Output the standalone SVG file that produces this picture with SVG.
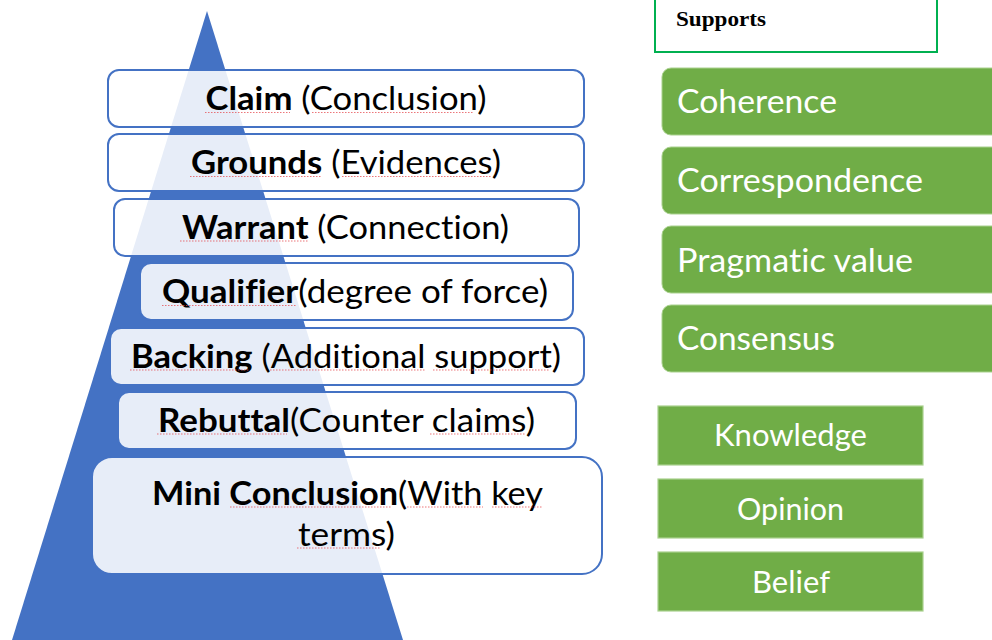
<svg xmlns="http://www.w3.org/2000/svg" width="992" height="640" viewBox="0 0 992 640">
  <defs>
    <style>
      text { font-variant-ligatures: none; font-feature-settings: "liga" 0, "clig" 0; }
      .tier { fill: #ffffff; fill-opacity: 0.87; stroke: #4472C4; stroke-width: 2; }
      .tier-text { font-family: Lato, "Open Sans", "Liberation Sans", sans-serif; font-size: 33px; fill: #000000; text-anchor: middle; }
      .b { font-weight: bold; }
      .squiggle { stroke: #E5484D; stroke-width: 1.1; stroke-dasharray: 1.5 1.5; fill: none; opacity: 0.75; }
      .theory { fill: #70AD47; stroke: #A9D18E; stroke-width: 1; }
      .theory-text { font-family: Lato, "Open Sans", "Liberation Sans", sans-serif; font-size: 33px; fill: #ffffff; }
      .state { fill: #70AD47; stroke: #A9D18E; stroke-width: 1.2; }
      .state-text { font-family: Lato, "Open Sans", "Liberation Sans", sans-serif; font-size: 31px; fill: #ffffff; text-anchor: middle; }
    </style>
  </defs>

  <rect width="992" height="640" fill="#ffffff"/>

  <!-- Background pyramid -->
  <g id="pyramid">
    <polygon points="207,11 12,640 403,640" fill="#4472C4"/>
  </g>

  <!-- Argument tiers -->
  <g id="node-claim">
    <rect class="tier" x="108" y="70" width="476" height="57" rx="11"/>
    <text class="tier-text" x="346" y="110" textLength="281" lengthAdjust="spacingAndGlyphs"><tspan class="b">Claim</tspan> (Conclusion)</text>
    <path class="squiggle" d="M205 112.5H290M312 112.5H473"/>
  </g>

  <g id="node-grounds">
    <rect class="tier" x="108" y="134" width="476" height="57" rx="11"/>
    <text class="tier-text" x="346" y="174" textLength="310" lengthAdjust="spacingAndGlyphs"><tspan class="b">Grounds</tspan> (Evidences)</text>
    <path class="squiggle" d="M190 176.5H322M342 176.5H492"/>
  </g>

  <g id="node-warrant">
    <rect class="tier" x="114" y="199" width="465" height="57" rx="11"/>
    <text class="tier-text" x="345.5" y="238.5" textLength="327" lengthAdjust="spacingAndGlyphs"><tspan class="b">Warrant</tspan> (Connection)</text>
    <path class="squiggle" d="M180 241H308"/>
  </g>

  <g id="node-qualifier">
    <rect class="tier" x="140" y="263" width="433" height="57" rx="11"/>
    <text class="tier-text" x="355" y="303" textLength="386" lengthAdjust="spacingAndGlyphs"><tspan class="b">Qualifier</tspan>(degree of force)</text>
    <path class="squiggle" d="M162 305.5H297"/>
  </g>

  <g id="node-backing">
    <rect class="tier" x="110" y="328" width="474" height="57" rx="11"/>
    <text class="tier-text" x="346" y="367.5" textLength="430" lengthAdjust="spacingAndGlyphs"><tspan class="b">Backing</tspan> (Additional support)</text>
    <path class="squiggle" d="M130 370H250M270 370H425M433 370H550"/>
  </g>

  <g id="node-rebuttal">
    <rect class="tier" x="118" y="392" width="458" height="57" rx="11"/>
    <text class="tier-text" x="346.5" y="431.5" textLength="377" lengthAdjust="spacingAndGlyphs"><tspan class="b">Rebuttal</tspan>(Counter claims)</text>
    <path class="squiggle" d="M157 434H287M430 434H525"/>
  </g>

  <g id="node-mini-conclusion">
    <rect class="tier" x="92" y="457" width="510" height="117" rx="20"/>
    <text class="tier-text" x="347.5" y="504.5" textLength="391" lengthAdjust="spacingAndGlyphs"><tspan class="b">Mini Conclusion</tspan>(With key</text>
    <text class="tier-text" x="346.5" y="545.5" textLength="97" lengthAdjust="spacingAndGlyphs">terms)</text>
    <path class="squiggle" d="M230 507H392M407 507H483M492 507H543M297 548H380"/>
  </g>

  <!-- Header box -->
  <g id="node-supports">
    <rect x="655" y="-10" width="282" height="62" fill="#ffffff" stroke="#00B050" stroke-width="2"/>
    <text x="676" y="26" font-family="'Liberation Serif', 'DejaVu Serif', serif" font-size="21" font-weight="bold" fill="#000000" textLength="90" lengthAdjust="spacingAndGlyphs">Supports</text>
  </g>

  <!-- Theories of truth -->
  <g id="node-coherence">
    <rect class="theory" x="662" y="68" width="345" height="67" rx="9"/>
    <text class="theory-text" x="677" y="113" textLength="160" lengthAdjust="spacingAndGlyphs">Coherence</text>
  </g>
  <g id="node-correspondence">
    <rect class="theory" x="662" y="147" width="345" height="67" rx="9"/>
    <text class="theory-text" x="677" y="192" textLength="246" lengthAdjust="spacingAndGlyphs">Correspondence</text>
  </g>
  <g id="node-pragmatic-value">
    <rect class="theory" x="662" y="226" width="345" height="67" rx="9"/>
    <text class="theory-text" x="677" y="271.5" textLength="236" lengthAdjust="spacingAndGlyphs">Pragmatic value</text>
  </g>
  <g id="node-consensus">
    <rect class="theory" x="662" y="305" width="345" height="67" rx="9"/>
    <text class="theory-text" x="677" y="349.5" textLength="158" lengthAdjust="spacingAndGlyphs">Consensus</text>
  </g>

  <!-- Epistemic states -->
  <g id="node-knowledge">
    <rect class="state" x="658" y="406" width="265" height="59"/>
    <text class="state-text" x="790.5" y="445.5" textLength="153" lengthAdjust="spacingAndGlyphs">Knowledge</text>
  </g>
  <g id="node-opinion">
    <rect class="state" x="658" y="479" width="265" height="59"/>
    <text class="state-text" x="790.5" y="519.5" textLength="107" lengthAdjust="spacingAndGlyphs">Opinion</text>
  </g>
  <g id="node-belief">
    <rect class="state" x="658" y="552" width="265" height="59"/>
    <text class="state-text" x="791" y="592.5" textLength="78" lengthAdjust="spacingAndGlyphs">Belief</text>
  </g>

  <g id="connectors"/>
</svg>
